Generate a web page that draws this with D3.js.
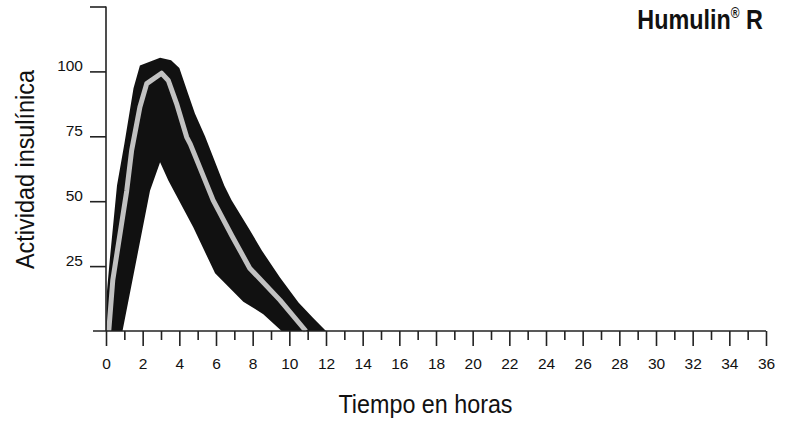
<!DOCTYPE html>
<html>
<head>
<meta charset="utf-8">
<script src="https://cdn.jsdelivr.net/npm/d3@7/dist/d3.min.js"></script>
<style>
  html, body { margin: 0; padding: 0; background: #fff; }
  svg { display: block; }
  text { font-family: "Liberation Sans", Arial, Helvetica, sans-serif; fill: #111; }
</style>
</head>
<body>
<svg id="chart" width="787" height="423"></svg>
<script>
// ---- data (hours, insulin activity) ----
const upperHours = [0, 0.05, 0.2, 0.6, 1.0, 1.5, 1.85, 2.95, 3.55, 4.0, 4.45, 4.85, 5.4, 6.45, 6.85, 7.85, 8.5, 9.5, 10.5, 11.3, 12];
const upperValues = [0, 15, 27, 56, 72, 93.5, 102.3, 105.3, 104.3, 101.3, 92, 83.8, 75, 56, 50.4, 38.8, 31, 20.5, 11, 5, 0];
const lowerHours = [0.9, 2.4, 2.95, 3.4, 4.76, 5.95, 7.49, 8.58, 9.58];
const lowerValues = [0, 54, 65, 58, 40, 22.2, 11.3, 6.5, 0];
const meanHours = [0.15, 0.37, 1.13, 1.4, 1.85, 2.22, 3.03, 3.4, 3.85, 4.4, 4.6, 5.84, 6.85, 7.84, 9.49, 10.9];
const meanValues = [0, 19.6, 54, 69.6, 86.3, 95.3, 99.3, 96.5, 87.6, 74.7, 72, 50.4, 36.9, 24.2, 11.9, 0];
const xMajorTicks = [0, 2, 4, 6, 8, 10, 12, 14, 16, 18, 20, 22, 24, 26, 28, 30, 32, 34, 36];
const xMinorTicks = [1, 3, 5, 7, 9, 11, 13, 15, 17, 19, 21, 23, 25, 27, 29, 31, 33, 35];
const yTicks = [25, 50, 75, 100, 125];
const yTickLabels = ["25", "50", "75", "100", ""];
const titleText = "Humulin";
const xTitle = "Tiempo en horas";
const yTitle = "Actividad insulínica";

// ---- layout ----
const svg = d3.select("#chart");
const x = d3.scaleLinear().domain([0, 36]).range([106, 766]);
const y = d3.scaleLinear().domain([0, 125]).range([331, 6.5]);
const axisColor = "#222";

// band polygon (upper forward, lower reversed)
const band = upperHours.map((h, i) => [h, upperValues[i]])
  .concat(lowerHours.map((h, i) => [h, lowerValues[i]]).reverse());
const line = d3.line().x(d => x(d[0])).y(d => y(d[1]));
svg.append("path")
  .attr("d", line(band) + "Z")
  .attr("fill", "#111");

const mean = meanHours.map((h, i) => [h, meanValues[i]]);
svg.append("path")
  .attr("d", line(mean))
  .attr("fill", "none")
  .attr("stroke", "#c2c2c2")
  .attr("stroke-width", 5)
  .attr("stroke-linejoin", "round");

// x axis
const gx = svg.append("g").attr("transform", "translate(0,331)");
gx.append("line")
  .attr("x1", 93).attr("x2", x(36)).attr("y1", 0).attr("y2", 0)
  .attr("stroke", axisColor).attr("stroke-width", 1.6);
const xMajor = gx.append("g").call(
  d3.axisBottom(x).tickValues(xMajorTicks).tickSize(15).tickPadding(12).tickFormat(d3.format("d")));
const xMinor = gx.append("g").call(
  d3.axisBottom(x).tickValues(xMinorTicks).tickSize(9).tickFormat(""));
[xMajor, xMinor].forEach(g => {
  g.select(".domain").remove();
  g.selectAll("line").attr("stroke", axisColor).attr("stroke-width", 1.6);
});
xMajor.selectAll("text")
  .attr("font-family", "Liberation Sans, Arial, sans-serif")
  .attr("font-size", 15.5).attr("fill", "#111");

// y axis
const gy = svg.append("g").attr("transform", "translate(106,0)");
gy.append("line")
  .attr("x1", 0).attr("x2", 0).attr("y1", y(125)).attr("y2", 331)
  .attr("stroke", axisColor).attr("stroke-width", 1.6);
const yAx = gy.append("g").call(
  d3.axisLeft(y).tickValues(yTicks).tickSize(16).tickPadding(7)
    .tickFormat((d, i) => yTickLabels[i]));
yAx.select(".domain").remove();
yAx.selectAll("line").attr("stroke", axisColor).attr("stroke-width", 1.6);
yAx.selectAll("text")
  .attr("font-family", "Liberation Sans, Arial, sans-serif")
  .attr("font-size", 15.5).attr("fill", "#111")
  .attr("dy", "-0.05em");

// titles
svg.append("text")
  .attr("x", 425.5).attr("y", 413.3)
  .attr("text-anchor", "middle")
  .attr("font-size", 25.5)
  .attr("textLength", 174).attr("lengthAdjust", "spacingAndGlyphs")
  .text(xTitle);

svg.append("text")
  .attr("transform", "translate(33.5,169.5) rotate(-90)")
  .attr("text-anchor", "middle")
  .attr("font-size", 26.5)
  .attr("textLength", 199).attr("lengthAdjust", "spacingAndGlyphs")
  .text(yTitle);

const t = svg.append("text")
  .attr("transform", "translate(763,29.3) scale(0.85,1)")
  .attr("text-anchor", "end")
  .attr("font-size", 27.5).attr("font-weight", "bold");
t.append("tspan").text(titleText);
t.append("tspan").attr("font-size", 14).attr("dy", -11).text("®");
t.append("tspan").attr("dy", 11).text(" R");
</script>
</body>
</html>
